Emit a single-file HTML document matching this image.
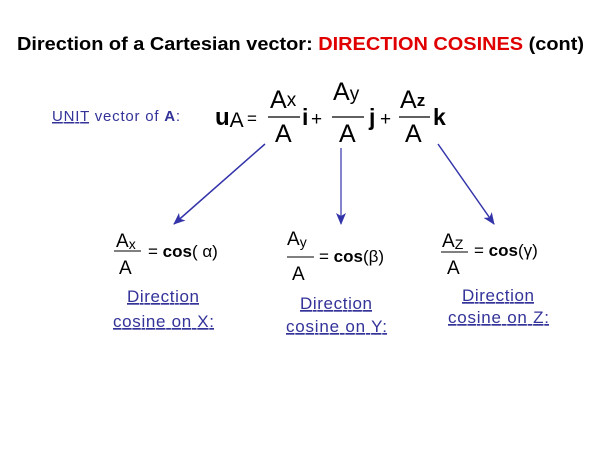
<!DOCTYPE html>
<html><head><meta charset="utf-8"><style>
html,body{margin:0;padding:0;background:#fff;}
svg{display:block;}
text{font-family:"Liberation Sans",Arial,sans-serif;}
</style></head><body>
<svg width="600" height="450" viewBox="0 0 600 450" xmlns="http://www.w3.org/2000/svg">
<defs>
<marker id="ah" markerWidth="12" markerHeight="10" refX="11" refY="5" orient="auto" markerUnits="userSpaceOnUse">
<path d="M0,0 L12,5 L0,10 L3,5 Z" fill="#3333aa"/>
</marker>
</defs>
<text x="17" y="50" font-size="18.5" font-weight="bold" fill="#000" textLength="567" lengthAdjust="spacingAndGlyphs">Direction of a Cartesian vector: <tspan fill="#e00000">DIRECTION COSINES</tspan> (cont)</text>

<text x="52" y="121" font-size="15" fill="#333399" textLength="128" lengthAdjust="spacing"><tspan text-decoration="underline">UNIT</tspan> vector of <tspan font-weight="bold">A</tspan>:</text>

<text x="215" y="125" font-size="24" font-weight="bold">u<tspan font-weight="normal" font-size="21" dy="2">A</tspan></text>
<text x="247" y="124" font-size="17">=</text>
<text x="270" y="108" font-size="25">A<tspan font-size="19" dy="-2">x</tspan></text>
<line x1="268" y1="117" x2="300" y2="117" stroke="#000" stroke-width="1.2"/>
<text x="275" y="142" font-size="25">A</text>
<text x="302" y="125" font-size="23" font-weight="bold">i</text>
<text x="311" y="125" font-size="19">+</text>
<text x="333" y="100" font-size="25">A<tspan font-size="19" dy="0">y</tspan></text>
<line x1="332" y1="117" x2="364" y2="117" stroke="#000" stroke-width="1.2"/>
<text x="339" y="142" font-size="25">A</text>
<text x="369" y="125" font-size="23" font-weight="bold">j</text>
<text x="380" y="125" font-size="19">+</text>
<text x="400" y="108" font-size="25">A<tspan font-size="17" font-weight="bold" dy="-2">z</tspan></text>
<line x1="399" y1="117" x2="430" y2="117" stroke="#000" stroke-width="1.2"/>
<text x="405" y="142" font-size="25">A</text>
<text x="433" y="125" font-size="23" font-weight="bold">k</text>

<g stroke="#3333aa" stroke-width="1.5" fill="none">
<line x1="265" y1="144" x2="174" y2="224" marker-end="url(#ah)"/>
<line x1="341" y1="148" x2="341" y2="224" stroke-width="1.2" marker-end="url(#ah)"/>
<line x1="438" y1="144" x2="494" y2="224" marker-end="url(#ah)"/>
</g>

<text x="116" y="247" font-size="19">A<tspan font-size="14" dy="2">x</tspan></text>
<line x1="114" y1="251" x2="141" y2="251" stroke="#000" stroke-width="1"/>
<text x="119" y="274" font-size="19">A</text>
<text x="148" y="257" font-size="17">= <tspan font-weight="bold">cos</tspan>( α)</text>

<text x="287" y="245" font-size="19">A<tspan font-size="14" dy="2">y</tspan></text>
<line x1="287" y1="257" x2="314" y2="257" stroke="#000" stroke-width="1"/>
<text x="292" y="280" font-size="19">A</text>
<text x="319" y="262" font-size="17">= <tspan font-weight="bold">cos</tspan>(β)</text>

<text x="442" y="247" font-size="19">A<tspan font-size="14" dy="2">Z</tspan></text>
<line x1="441" y1="252" x2="468" y2="252" stroke="#000" stroke-width="1"/>
<text x="447" y="274" font-size="19">A</text>
<text x="474" y="256" font-size="17">= <tspan font-weight="bold">cos</tspan>(γ)</text>

<g fill="#333399" font-size="17" text-decoration="underline">
<text x="127" y="302" textLength="72" lengthAdjust="spacing">Direction</text>
<text x="113" y="327" textLength="101" lengthAdjust="spacing">cosine on X:</text>
<text x="300" y="309" textLength="72" lengthAdjust="spacing">Direction</text>
<text x="286" y="332" textLength="101" lengthAdjust="spacing">cosine on Y:</text>
<text x="462" y="301" textLength="72" lengthAdjust="spacing">Direction</text>
<text x="448" y="323" textLength="101" lengthAdjust="spacing">cosine on Z:</text>
</g>
</svg>
</body></html>
